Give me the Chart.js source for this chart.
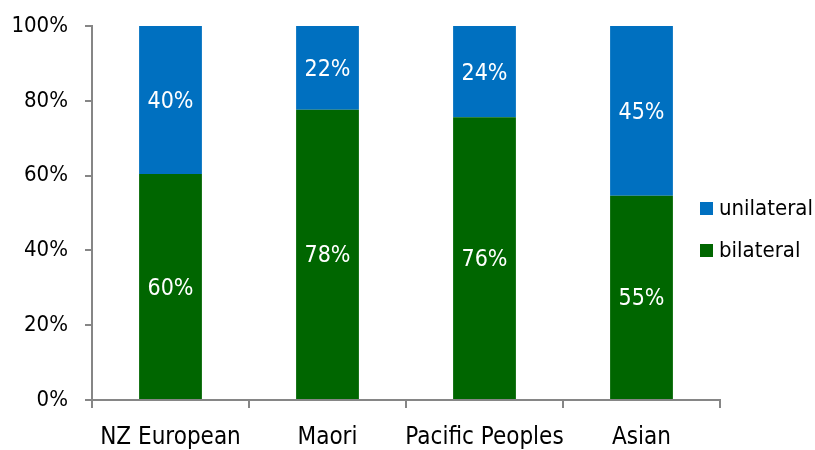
<!DOCTYPE html>
<html>
<head>
<meta charset="utf-8">
<script src="https://cdn.jsdelivr.net/npm/chart.js@4"></script>
<style>
  html, body { margin: 0; padding: 0; background: #fff; }
  #wrap { width: 815px; height: 450px; }
</style>
</head>
<body>
<div id="wrap"><canvas id="ethnicity"></canvas></div>
<script>
const categories = ['NZ European', 'Maori', 'Pacific Peoples', 'Asian'];
const bilateral = [60.4, 77.6, 75.6, 54.6];
const unilateral = [39.6, 22.4, 24.4, 45.4];
const yTicks = [0, 20, 40, 60, 80, 100];

const FONT = '"DejaVu Sans Condensed", "Liberation Sans Narrow", sans-serif';
const axisGrey = '#868686';

// white % labels in the middle of every segment
const segmentLabels = {
  id: 'segmentLabels',
  afterDatasetsDraw(chart) {
    const ctx = chart.ctx;
    ctx.save();
    ctx.fillStyle = '#fff';
    ctx.font = '23px ' + FONT;
    ctx.textAlign = 'center';
    ctx.textBaseline = 'middle';
    chart.data.datasets.forEach((ds, i) => {
      chart.getDatasetMeta(i).data.forEach((bar, j) => {
        const mid = (bar.y + bar.base) / 2;
        ctx.fillText(Math.round(ds.data[j]) + '%', bar.x, mid + 2);
      });
    });
    ctx.restore();
  }
};

// legend sits partly over the plot, like the original
const sideLegend = {
  id: 'sideLegend',
  afterDraw(chart) {
    const ctx = chart.ctx;
    ctx.save();
    ctx.font = '22px ' + FONT;
    ctx.textBaseline = 'middle';
    const items = [...chart.data.datasets].reverse();
    items.forEach((ds, k) => {
      const y = 209 + k * 42;
      ctx.fillStyle = ds.backgroundColor;
      ctx.fillRect(700, y - 7, 13, 13);
      ctx.fillStyle = '#000';
      ctx.fillText(ds.label, 719, y);
    });
    ctx.restore();
  }
};

new Chart(document.getElementById('ethnicity'), {
  type: 'bar',
  data: {
    labels: categories,
    datasets: [
      { label: 'bilateral', data: bilateral, backgroundColor: '#006600' },
      { label: 'unilateral', data: unilateral, backgroundColor: '#0070c0' }
    ]
  },
  options: {
    responsive: true,
    maintainAspectRatio: false,
    animation: false,
    layout: { padding: { top: 0, right: 95, bottom: 0, left: 0 } },
    datasets: { bar: { barPercentage: 1, categoryPercentage: 0.4 } },
    plugins: { legend: { display: false }, tooltip: { enabled: false } },
    scales: {
      x: {
        stacked: true,
        afterFit: axis => { axis.height = 50; },
        border: { color: axisGrey, width: 2 },
        grid: { drawOnChartArea: false, color: axisGrey, lineWidth: 2, tickLength: 8, offset: true },
        ticks: { color: '#000', font: { family: FONT, size: 24 }, padding: 15, maxRotation: 0, autoSkip: false }
      },
      y: {
        stacked: true,
        min: 0,
        max: 100,
        afterBuildTicks: axis => { axis.ticks = yTicks.map(v => ({ value: v })); },
        afterFit: axis => { axis.width = 92; axis.paddingTop = 26; axis.paddingBottom = 0; },
        border: { color: axisGrey, width: 2 },
        grid: { drawOnChartArea: false, color: axisGrey, lineWidth: 2, tickLength: 7 },
        ticks: { color: '#000', font: { family: FONT, size: 22 }, padding: 17, callback: v => v + '%' }
      }
    }
  },
  plugins: [segmentLabels, sideLegend]
});
</script>
</body>
</html>
